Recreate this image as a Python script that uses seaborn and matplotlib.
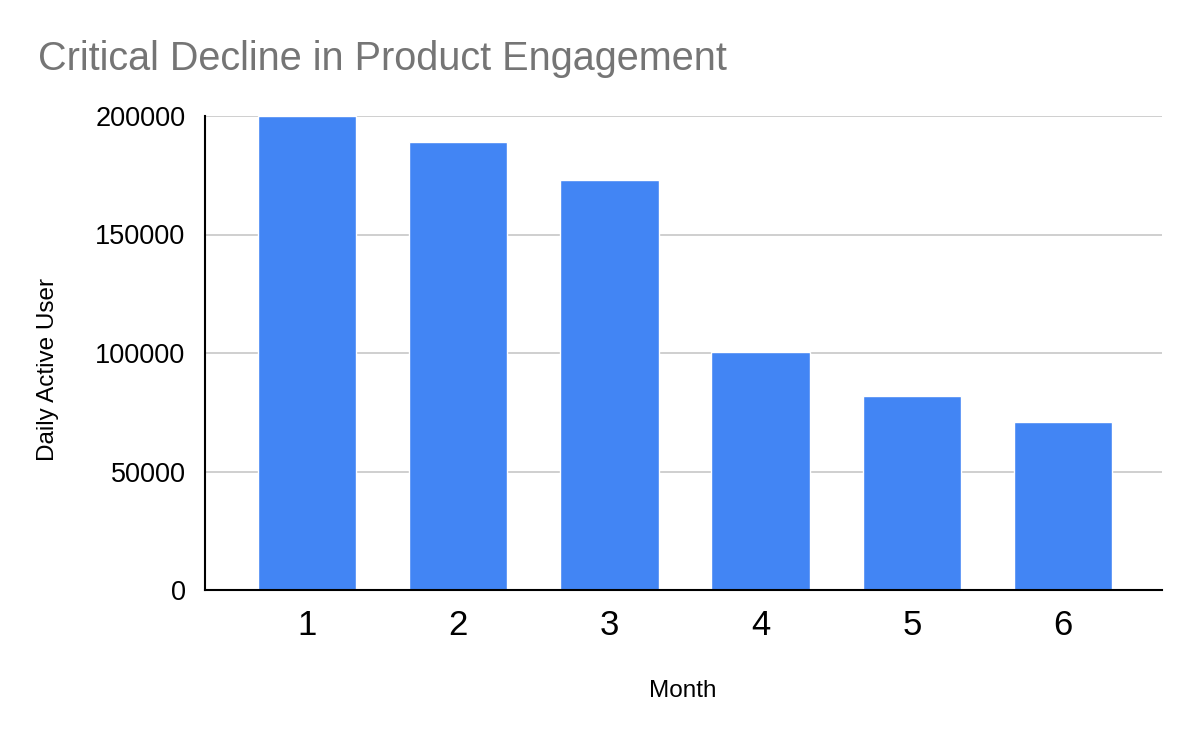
import pandas as pd
import matplotlib
matplotlib.use("Agg")
import matplotlib.pyplot as plt
import seaborn as sns

# =========================
# Data
# =========================

months = ["1", "2", "3", "4", "5", "6"]
daily_active_users = [200000, 189000, 173000, 100500, 82000, 71000]
y_ticks = [0, 50000, 100000, 150000, 200000]

df = pd.DataFrame({
    "Month": months,
    "Daily Active User": daily_active_users
})

# =========================
# Plot
# =========================

sns.set_style("white")
plt.rcParams["font.family"] = ["Liberation Sans", "DejaVu Sans"]
plt.rcParams["text.color"] = "black"
plt.rcParams["xtick.color"] = "black"
plt.rcParams["ytick.color"] = "black"

fig = plt.figure(figsize=(12, 7.42), dpi=100)
ax = fig.add_axes([205 / 1200, 1 - 590 / 742, 957 / 1200, 474 / 742])

sns.barplot(
    data=df,
    x="Month",
    y="Daily Active User",
    order=months,
    color="#4285F4",
    saturation=1,
    width=0.65,
    ax=ax
)

ax.set_ylim(0, 200000)
ax.set_xlim(-0.675, 5.655)
ax.set_yticks(y_ticks)
ax.set_yticklabels([str(t) for t in y_ticks], fontsize=19.5)
ax.tick_params(axis="x", labelsize=25, pad=14, length=0, labelcolor="black")
ax.tick_params(axis="y", pad=14, length=0, labelcolor="black")

ax.yaxis.grid(True, color="#cccccc", linewidth=1.3)
ax.set_axisbelow(True)

for side in ["top", "right"]:
    ax.spines[side].set_visible(False)
ax.spines["left"].set_color("black")
ax.spines["bottom"].set_color("black")
ax.spines["left"].set_linewidth(1.5)
ax.spines["bottom"].set_linewidth(1.5)

ax.set_xlabel("")
ax.set_ylabel("")

fig.text(683 / 1200, 1 - 691 / 742, "Month", fontsize=17.5,
         color="black", ha="center", va="center")
fig.text(48 / 1200, 1 - 370 / 742, "Daily Active User", fontsize=17.5,
         color="black", rotation=90, ha="center", va="center")
fig.text(38 / 1200, 1 - 70 / 742, "Critical Decline in Product Engagement",
         fontsize=28.5, color="#757575", ha="left", va="baseline")

fig.savefig("out.png", dpi=100, facecolor="white")
